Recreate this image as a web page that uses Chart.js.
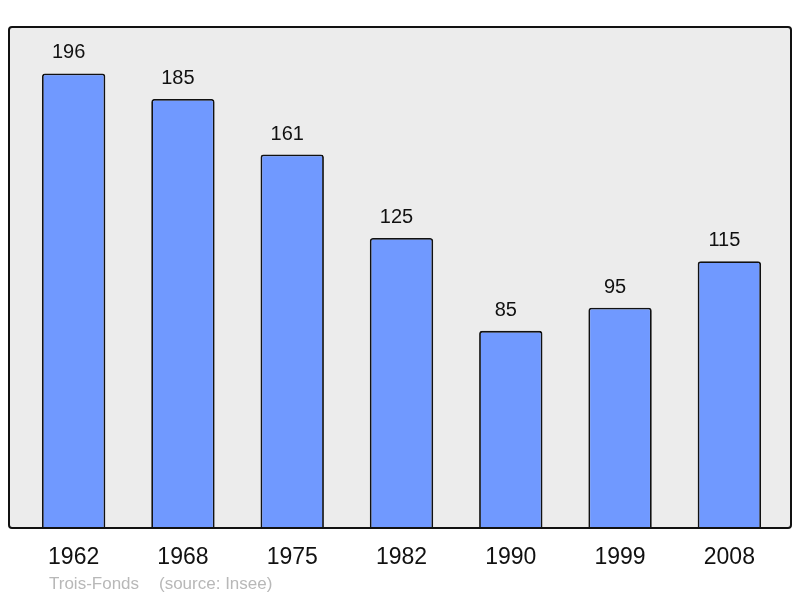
<!DOCTYPE html>
<html>
<head>
<meta charset="utf-8">
<script src="https://cdn.jsdelivr.net/npm/chart.js@4/dist/chart.umd.min.js"></script>
<style>
	html, body { margin: 0; padding: 0; background: #fff; }
	canvas { display: block; }
</style>
</head>
<body>
<canvas id="chart" width="800" height="598"></canvas>
<script>
var years = ['1962', '1968', '1975', '1982', '1990', '1999', '2008'];
var population = [196, 185, 161, 125, 85, 95, 115];
var townName = 'Trois-Fonds';
var sourceText = '(source: Insee)';

// grey box behind the bars, a bit wider than the chart area
var boxPlugin = {
	id: 'box',
	beforeDatasetsDraw: function(chart) {
		var c = chart.ctx;
		var a = chart.chartArea;
		c.save();
		c.beginPath();
		c.roundRect(9, a.top, 782, a.bottom - a.top, 3);
		c.fillStyle = '#ececec';
		c.fill();
		c.restore();
	},
	afterDatasetsDraw: function(chart) {
		var c = chart.ctx;
		var a = chart.chartArea;
		c.save();
		c.beginPath();
		c.roundRect(9, a.top, 782, a.bottom - a.top, 3);
		c.lineWidth = 2;
		c.strokeStyle = '#111';
		c.stroke();

		// value labels above the bars
		c.font = '20px "Liberation Sans", Arial, sans-serif';
		c.fillStyle = '#111';
		c.textAlign = 'center';
		c.textBaseline = 'alphabetic';
		chart.getDatasetMeta(0).data.forEach(function(bar, i) {
			c.fillText(population[i], bar.x - 5, bar.y - 15);
		});

		// footer
		c.font = '17px "Liberation Sans", Arial, sans-serif';
		c.fillStyle = '#b8b8b8';
		c.textAlign = 'left';
		c.fillText(townName, 49, 589);
		c.fillText(sourceText, 159, 589);
		c.restore();
	}
};

new Chart(document.getElementById('chart'), {
	type: 'bar',
	data: {
		labels: years,
		datasets: [{
			data: population,
			backgroundColor: '#7099ff',
			borderColor: '#111',
			borderWidth: 1.8,
			borderRadius: { topLeft: 3, topRight: 3 },
			borderSkipped: 'bottom',
			categoryPercentage: 1,
			barPercentage: 0.58
		}]
	},
	options: {
		responsive: false,
		animation: false,
		devicePixelRatio: 1,
		layout: { padding: { left: 19, right: 16, top: 27, bottom: 0 } },
		plugins: { legend: { display: false }, tooltip: { enabled: false } },
		scales: {
			x: {
				grid: { display: false, drawTicks: false },
				border: { display: false },
				ticks: {
					color: '#111',
					font: { size: 23, family: '"Liberation Sans", Arial, sans-serif' },
					padding: 16,
					maxRotation: 0
				},
				afterFit: function(scale) { scale.height = 70; }
			},
			y: {
				display: false,
				min: 0,
				max: 216
			}
		}
	},
	plugins: [boxPlugin]
});
</script>
</body>
</html>
